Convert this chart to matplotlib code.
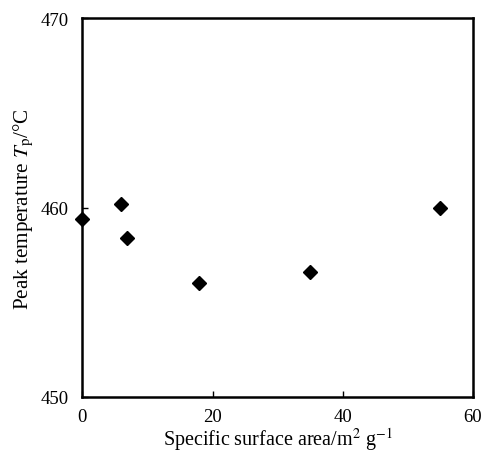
import matplotlib
matplotlib.use("Agg")
import matplotlib.pyplot as plt

# Specific surface area (m2/g) vs. peak temperature (°C)
surface_area = [0, 5.9, 6.8, 17.9, 34.9, 55.0]
peak_temp = [459.4, 460.2, 458.4, 456.0, 456.6, 460.0]

x_ticks = [0, 20, 40, 60]
y_ticks = [450, 460, 470]

plt.rcParams["font.family"] = ["Liberation Serif", "DejaVu Serif"]
plt.rcParams["mathtext.fontset"] = "stix"

fig = plt.figure(figsize=(4.82, 4.52), dpi=100)
ax = fig.add_axes([0.171, 0.1195, 0.81, 0.8375])

ax.plot(surface_area, peak_temp, linestyle="none", marker="D",
        markersize=7.3, color="black", clip_on=False, zorder=3)

ax.set_xlim(0, 60)
ax.set_ylim(450, 470)
ax.set_xticks(x_ticks)
ax.set_yticks(y_ticks)

for side in ax.spines.values():
    side.set_linewidth(1.8)
    side.set_color("black")

ax.tick_params(direction="in", length=4, width=1, labelsize=13.5,
               top=False, right=False)
ax.tick_params(axis="x", pad=8)
ax.tick_params(axis="y", pad=10)

ax.set_xlabel(r"Specific surface area/m$^{2}$ g$^{-1}$", fontsize=14.5, labelpad=0)
ax.set_ylabel(r"Peak temperature $T_{\mathrm{p}}$/°C", fontsize=15.2, labelpad=3)

fig.savefig("out.png", dpi=100)
